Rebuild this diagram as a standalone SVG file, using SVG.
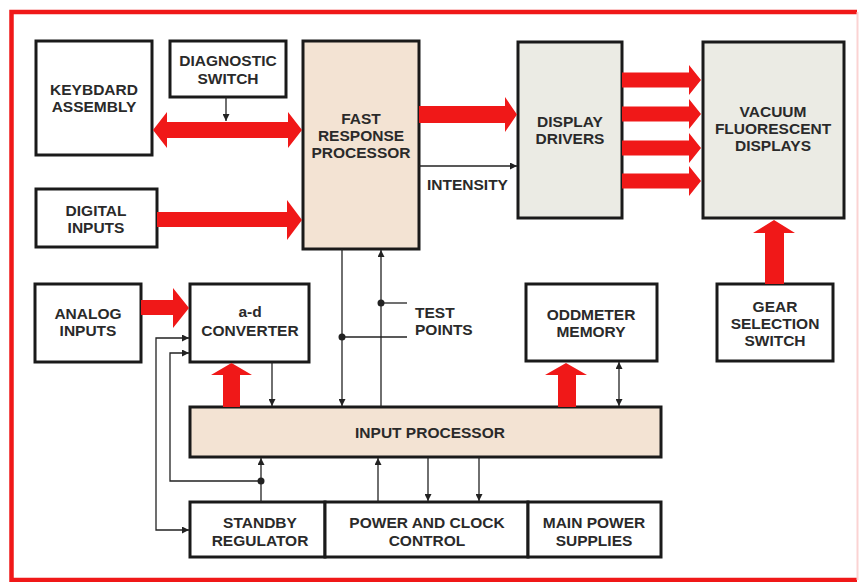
<svg xmlns="http://www.w3.org/2000/svg" width="859" height="582" viewBox="0 0 859 582">
  <style>
    .box { fill: #ffffff; stroke: #1a1a1a; stroke-width: 3; }
    .beige { fill: #f3e3d3; }
    .grey { fill: #ebebe4; }
    .lbl { font-family: "Liberation Sans", Arial, sans-serif; font-weight: bold; font-size: 15.5px; fill: #2a2a2a; text-anchor: middle; }
    .lft { text-anchor: start; }
    .red { fill: #f01818; stroke: none; }
    .wire { fill: none; stroke: #222222; stroke-width: 1.3; }
    .dot { fill: #222222; }
  </style>
  <defs>
    <marker id="ah" viewBox="0 0 10 10" refX="10" refY="5" markerWidth="7" markerHeight="7" markerUnits="userSpaceOnUse" orient="auto-start-reverse">
      <path d="M0,0 L10,5 L0,10 z" fill="#222222"/>
    </marker>
  </defs>

  <rect width="859" height="582" fill="#ffffff"/>
  <g id="frame">
    <path d="M857,12 H11.5 V580 H857" fill="none" stroke="#f01818" stroke-width="4.5"/>
    <path d="M857.5,12 V580" fill="none" stroke="#fbd3d3" stroke-width="2"/>
  </g>

  <g id="keyboard-assembly">
    <rect class="box" x="36" y="41" width="116" height="114"/>
    <text class="lbl" x="94" y="95">KEYBDARD</text>
    <text class="lbl" x="94" y="112">ASSEMBLY</text>
  </g>
  <g id="diagnostic-switch">
    <rect class="box" x="170" y="41" width="116" height="56"/>
    <text class="lbl" x="228" y="66">DIAGNOSTIC</text>
    <text class="lbl" x="228" y="84">SWITCH</text>
  </g>
  <g id="fast-response-processor">
    <rect class="box beige" x="303" y="41" width="116" height="208"/>
    <text class="lbl" x="361" y="124">FAST</text>
    <text class="lbl" x="361" y="141">RESPONSE</text>
    <text class="lbl" x="361" y="158">PROCESSOR</text>
  </g>
  <g id="digital-inputs">
    <rect class="box" x="36" y="189" width="121" height="58"/>
    <text class="lbl" x="96" y="216">DIGITAL</text>
    <text class="lbl" x="96" y="233">INPUTS</text>
  </g>
  <g id="display-drivers">
    <rect class="box grey" x="518" y="42" width="104" height="176"/>
    <text class="lbl" x="570" y="127">DISPLAY</text>
    <text class="lbl" x="570" y="144">DRIVERS</text>
  </g>
  <g id="vacuum-fluorescent-displays">
    <rect class="box grey" x="703" y="42" width="141" height="176"/>
    <text class="lbl" x="773" y="117">VACUUM</text>
    <text class="lbl" x="773" y="134">FLUORESCENT</text>
    <text class="lbl" x="773" y="151">DISPLAYS</text>
  </g>
  <g id="analog-inputs">
    <rect class="box" x="35" y="284" width="106" height="78"/>
    <text class="lbl" x="88" y="319">ANALOG</text>
    <text class="lbl" x="88" y="336">INPUTS</text>
  </g>
  <g id="ad-converter">
    <rect class="box" x="190" y="284" width="119" height="78"/>
    <text class="lbl" x="250" y="317">a-d</text>
    <text class="lbl" x="250" y="336">CONVERTER</text>
  </g>
  <g id="oddmeter-memory">
    <rect class="box" x="526" y="284" width="131" height="77"/>
    <text class="lbl" x="591" y="320">ODDMETER</text>
    <text class="lbl" x="591" y="337">MEMORY</text>
  </g>
  <g id="gear-selection-switch">
    <rect class="box" x="717" y="284" width="116" height="77"/>
    <text class="lbl" x="775" y="312">GEAR</text>
    <text class="lbl" x="775" y="329">SELECTION</text>
    <text class="lbl" x="775" y="346">SWITCH</text>
  </g>
  <g id="input-processor">
    <rect class="box beige" x="190" y="407" width="471" height="50"/>
    <text class="lbl" x="430" y="438">INPUT PROCESSOR</text>
  </g>
  <g id="standby-regulator">
    <rect class="box" x="190" y="502" width="135" height="55"/>
    <text class="lbl" x="260" y="528">STANDBY</text>
    <text class="lbl" x="260" y="546">REGULATOR</text>
  </g>
  <g id="power-and-clock-control">
    <rect class="box" x="325" y="502" width="203" height="55"/>
    <text class="lbl" x="427" y="528">POWER AND CLOCK</text>
    <text class="lbl" x="427" y="546">CONTROL</text>
  </g>
  <g id="main-power-supplies">
    <rect class="box" x="528" y="502" width="133" height="55"/>
    <text class="lbl" x="594" y="528">MAIN POWER</text>
    <text class="lbl" x="594" y="546">SUPPLIES</text>
  </g>

  <g id="connectors">
    <polygon class="red" points="153,130 167,112 167,122 288,122 288,112 302,130 288,148 288,138 167,138 167,148"/>
    <polygon class="red" points="157,212 287,212 287,200 302,220 287,240 287,227 157,227"/>
    <polygon class="red" points="419,106 505,106 505,97 517,114.5 505,132 505,123 419,123"/>
    <polygon class="red" points="622,72.5 689,72.5 689,65 701,80 689,95 689,87.5 622,87.5"/>
    <polygon class="red" points="622,106.5 689,106.5 689,99 701,114 689,129 689,121.5 622,121.5"/>
    <polygon class="red" points="622,140.5 689,140.5 689,133 701,148 689,163 689,155.5 622,155.5"/>
    <polygon class="red" points="622,173.5 689,173.5 689,166 701,181 689,196 689,188.5 622,188.5"/>
    <polygon class="red" points="765,284 765,233 753,233 774,220 795,233 784,233 784,284"/>
    <polygon class="red" points="141,300 173,300 173,288 189,308 173,328 173,315 141,315"/>
    <polygon class="red" points="223,407 223,375 211,375 231.5,363 252,375 240,375 240,407"/>
    <polygon class="red" points="558,407 558,375 545,375 566,363 587,375 576,375 576,407"/>

    <path class="wire" d="M226,97 V121" marker-end="url(#ah)"/>
    <path class="wire" d="M419,166 H517" marker-end="url(#ah)"/>
    <path class="wire" d="M342,249 V406" marker-end="url(#ah)"/>
    <path class="wire" d="M381,407 V250" marker-end="url(#ah)"/>
    <path class="wire" d="M342,337 H407"/>
    <path class="wire" d="M381,303 H407"/>
    <circle class="dot" cx="342" cy="337" r="3.5"/>
    <circle class="dot" cx="381" cy="303" r="3.5"/>
    <path class="wire" d="M272,362 V406" marker-end="url(#ah)"/>
    <path class="wire" d="M189,338 H156 V530 H189" marker-start="url(#ah)" marker-end="url(#ah)"/>
    <path class="wire" d="M261,481 H170 V353 H189" marker-end="url(#ah)"/>
    <path class="wire" d="M261,502 V458" marker-end="url(#ah)"/>
    <circle class="dot" cx="261" cy="481" r="3.5"/>
    <path class="wire" d="M378,502 V458" marker-end="url(#ah)"/>
    <path class="wire" d="M428,457 V501" marker-end="url(#ah)"/>
    <path class="wire" d="M479,457 V501" marker-end="url(#ah)"/>
    <path class="wire" d="M619,362 V406" marker-start="url(#ah)" marker-end="url(#ah)"/>

    <text class="lbl lft" x="427" y="190">INTENSITY</text>
    <text class="lbl lft" x="415" y="318">TEST</text>
    <text class="lbl lft" x="415" y="335">POINTS</text>
  </g>
</svg>
